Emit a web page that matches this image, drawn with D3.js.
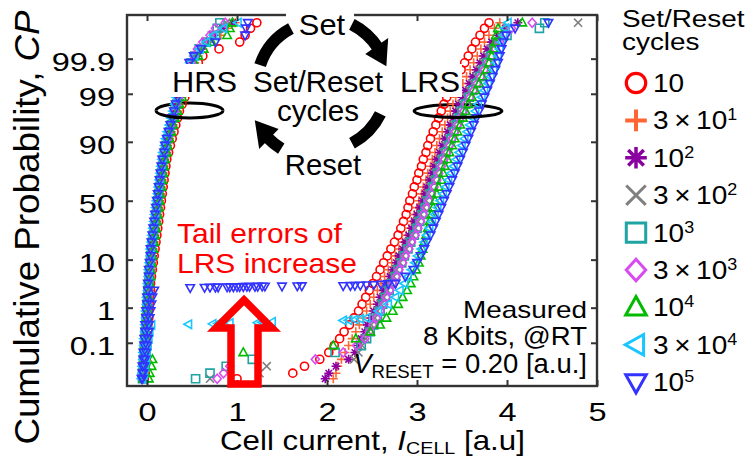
<!DOCTYPE html>
<html>
<head>
<meta charset="utf-8">
<script src="https://cdn.jsdelivr.net/npm/d3@7"></script>
<style>
  html, body { margin: 0; padding: 0; background: #fff; }
  svg { display: block; font-family: "Liberation Sans", Arial, Helvetica, sans-serif; }
  text { white-space: pre; }
</style>
</head>
<body>
<svg id="chart" width="754" height="458" xmlns="http://www.w3.org/2000/svg"></svg>
<script>
// ================= DATA =================
const seriesNames = ["10", "3x10^1", "10^2", "3x10^2", "10^3", "3x10^3", "10^4", "3x10^4", "10^5"];
const legendBase = ["10", "3\u2009\u00d7\u200910", "10", "3\u2009\u00d7\u200910", "10", "3\u2009\u00d7\u200910", "10", "3\u2009\u00d7\u200910", "10"];
const legendExp  = ["", "1", "2", "2", "3", "3", "4", "4", "5"];

// cumulative probability levels (%) at which the sorted currents were read
const cpLevels = [0.0054, 0.0088, 0.0159, 0.0280, 0.0483, 0.0816, 0.135, 0.219, 0.347, 0.539, 0.820, 1.22, 1.79, 2.56, 3.59, 4.95, 6.68, 8.85, 11.51, 14.69, 18.41, 22.66, 27.43, 32.64, 38.21, 44.04, 50, 55.96, 61.79, 67.36, 72.57, 77.34, 81.59, 85.31, 88.49, 91.15, 93.32, 95.05, 96.41, 97.44, 98.21, 98.78, 99.18, 99.461, 99.653, 99.781, 99.865, 99.918, 99.952, 99.972, 99.984, 99.9912, 99.9946];

// HRS cell current [a.u.] per cycle count
const hrs10     = [-0.03, -0.02, -0.02, -0.01, -0.01, 0.00, 0.00, 0.01, 0.01, 0.02, 0.02, 0.03, 0.03, 0.04, 0.04, 0.05, 0.06, 0.07, 0.08, 0.09, 0.10, 0.11, 0.12, 0.13, 0.14, 0.15, 0.16, 0.17, 0.18, 0.19, 0.20, 0.21, 0.22, 0.24, 0.26, 0.28, 0.30, 0.32, 0.34, 0.36, 0.39, 0.42, 0.45, 0.48, 0.51, 0.54, 0.57, 0.62, 0.80, 1.03, 1.09, 1.15, 1.22];
const hrs30     = [-0.04, -0.03, -0.03, -0.02, -0.02, -0.01, -0.01, 0.00, 0.00, 0.01, 0.01, 0.02, 0.02, 0.03, 0.03, 0.04, 0.05, 0.06, 0.07, 0.07, 0.08, 0.09, 0.10, 0.11, 0.12, 0.13, 0.14, 0.15, 0.16, 0.17, 0.18, 0.19, 0.20, 0.22, 0.23, 0.25, 0.27, 0.29, 0.31, 0.34, 0.36, 0.39, 0.41, 0.44, 0.47, 0.50, 0.53, 0.57, 0.62, 0.70, 0.82, 0.90, 0.98];
const hrs100    = [-0.05, -0.04, -0.04, -0.03, -0.03, -0.02, -0.02, -0.01, -0.01, 0.00, 0.00, 0.01, 0.01, 0.02, 0.03, 0.03, 0.04, 0.05, 0.06, 0.06, 0.07, 0.08, 0.09, 0.10, 0.11, 0.12, 0.13, 0.14, 0.15, 0.16, 0.17, 0.18, 0.19, 0.21, 0.22, 0.24, 0.26, 0.28, 0.30, 0.32, 0.35, 0.37, 0.40, 0.42, 0.45, 0.48, 0.51, 0.55, 0.60, 0.66, 0.74, 0.84, 0.95];
const hrs300    = [-0.05, -0.04, -0.04, -0.03, -0.03, -0.02, -0.02, -0.01, -0.01, 0.00, 0.00, 0.01, 0.01, 0.02, 0.02, 0.03, 0.04, 0.04, 0.05, 0.06, 0.07, 0.08, 0.09, 0.10, 0.11, 0.12, 0.13, 0.14, 0.15, 0.16, 0.17, 0.18, 0.19, 0.20, 0.22, 0.24, 0.25, 0.27, 0.29, 0.32, 0.34, 0.36, 0.39, 0.41, 0.44, 0.47, 0.50, 0.54, 0.59, 0.65, 0.72, 0.80, 0.88];
const hrs1000   = [-0.05, -0.05, -0.04, -0.04, -0.03, -0.03, -0.02, -0.02, -0.01, -0.01, 0.00, 0.00, 0.01, 0.01, 0.02, 0.02, 0.03, 0.04, 0.04, 0.05, 0.06, 0.07, 0.08, 0.09, 0.10, 0.11, 0.12, 0.13, 0.14, 0.15, 0.16, 0.17, 0.18, 0.20, 0.21, 0.23, 0.25, 0.27, 0.29, 0.31, 0.33, 0.35, 0.38, 0.40, 0.43, 0.46, 0.49, 0.53, 0.58, 0.66, 0.76, 0.78, 0.81];
const hrs3000   = [-0.05, -0.05, -0.04, -0.04, -0.03, -0.03, -0.02, -0.02, -0.01, -0.01, 0.00, 0.00, 0.01, 0.01, 0.02, 0.02, 0.03, 0.04, 0.04, 0.05, 0.06, 0.07, 0.08, 0.09, 0.10, 0.11, 0.12, 0.13, 0.14, 0.15, 0.16, 0.17, 0.18, 0.20, 0.21, 0.23, 0.25, 0.27, 0.29, 0.31, 0.33, 0.35, 0.38, 0.40, 0.43, 0.46, 0.49, 0.52, 0.56, 0.62, 0.70, 0.76, 0.87];
const hrs10000  = [-0.04, -0.04, -0.03, -0.03, -0.02, -0.02, -0.01, -0.01, 0.00, 0.00, 0.01, 0.01, 0.02, 0.02, 0.03, 0.04, 0.04, 0.05, 0.06, 0.07, 0.08, 0.09, 0.10, 0.11, 0.12, 0.13, 0.14, 0.15, 0.16, 0.17, 0.18, 0.19, 0.20, 0.22, 0.23, 0.25, 0.27, 0.29, 0.31, 0.34, 0.36, 0.39, 0.41, 0.44, 0.47, 0.50, 0.53, 0.57, 0.63, 0.72, 0.89, 0.92, 0.95];
const hrs30000  = [-0.06, -0.05, -0.05, -0.04, -0.04, -0.03, -0.03, -0.02, -0.02, -0.01, -0.01, 0.00, 0.00, 0.01, 0.01, 0.02, 0.02, 0.03, 0.04, 0.04, 0.05, 0.06, 0.07, 0.08, 0.09, 0.10, 0.11, 0.12, 0.13, 0.14, 0.15, 0.16, 0.17, 0.18, 0.20, 0.21, 0.23, 0.25, 0.27, 0.29, 0.31, 0.33, 0.35, 0.38, 0.41, 0.44, 0.48, 0.53, 0.59, 0.66, 0.74, 0.85, 1.01];
const hrs100000 = [-0.06, -0.05, -0.05, -0.04, -0.04, -0.03, -0.03, -0.02, -0.02, -0.01, -0.01, 0.00, 0.00, 0.01, 0.01, 0.02, 0.02, 0.03, 0.04, 0.04, 0.05, 0.06, 0.07, 0.08, 0.09, 0.10, 0.11, 0.12, 0.13, 0.14, 0.15, 0.16, 0.17, 0.19, 0.20, 0.22, 0.24, 0.26, 0.28, 0.30, 0.32, 0.34, 0.36, 0.38, 0.41, 0.44, 0.47, 0.52, 0.60, 0.76, 1.09, 1.10, 1.12];

// LRS cell current [a.u.] per cycle count
const lrs10     = [1.00, 1.62, 1.75, 1.92, 2.02, 2.08, 2.14, 2.19, 2.25, 2.30, 2.35, 2.39, 2.43, 2.47, 2.51, 2.55, 2.59, 2.63, 2.67, 2.71, 2.75, 2.79, 2.82, 2.85, 2.88, 2.90, 2.92, 2.95, 2.97, 3.00, 3.02, 3.05, 3.07, 3.10, 3.12, 3.15, 3.18, 3.21, 3.24, 3.27, 3.30, 3.33, 3.37, 3.41, 3.45, 3.49, 3.53, 3.57, 3.61, 3.65, 3.70, 3.75, 3.80];
const lrs30     = [2.07, 2.10, 2.12, 2.16, 2.20, 2.24, 2.28, 2.32, 2.36, 2.40, 2.44, 2.48, 2.52, 2.56, 2.60, 2.64, 2.68, 2.72, 2.76, 2.80, 2.84, 2.88, 2.91, 2.94, 2.97, 3.00, 3.02, 3.05, 3.07, 3.10, 3.12, 3.15, 3.17, 3.20, 3.22, 3.25, 3.28, 3.31, 3.34, 3.37, 3.40, 3.43, 3.47, 3.51, 3.55, 3.59, 3.63, 3.67, 3.71, 3.75, 3.80, 3.86, 3.92];
const lrs100    = [1.98, 2.02, 2.10, 2.24, 2.31, 2.35, 2.38, 2.42, 2.45, 2.49, 2.52, 2.56, 2.59, 2.63, 2.66, 2.70, 2.73, 2.77, 2.80, 2.84, 2.87, 2.91, 2.94, 2.97, 3.00, 3.03, 3.06, 3.09, 3.11, 3.14, 3.17, 3.19, 3.22, 3.25, 3.28, 3.31, 3.34, 3.37, 3.40, 3.43, 3.46, 3.50, 3.54, 3.58, 3.62, 3.66, 3.70, 3.74, 3.78, 3.83, 3.90, 3.98, 4.12];
const lrs300    = [0.70, 1.25, 1.33, 2.30, 2.35, 2.39, 2.43, 2.46, 2.49, 2.53, 2.56, 2.60, 2.63, 2.67, 2.70, 2.74, 2.77, 2.81, 2.84, 2.88, 2.91, 2.95, 2.98, 3.01, 3.04, 3.07, 3.10, 3.13, 3.15, 3.18, 3.21, 3.23, 3.26, 3.29, 3.32, 3.35, 3.38, 3.41, 3.44, 3.47, 3.50, 3.54, 3.58, 3.62, 3.66, 3.70, 3.74, 3.78, 3.82, 3.87, 3.93, 4.00, 4.79];
const lrs1000   = [0.54, 0.70, 0.88, 1.17, 2.09, 2.38, 2.44, 2.48, 2.52, 2.56, 2.59, 2.62, 2.65, 2.69, 2.72, 2.76, 2.79, 2.83, 2.86, 2.90, 2.93, 2.97, 3.00, 3.03, 3.06, 3.09, 3.12, 3.15, 3.18, 3.21, 3.23, 3.26, 3.29, 3.32, 3.35, 3.38, 3.41, 3.44, 3.47, 3.50, 3.54, 3.58, 3.62, 3.66, 3.70, 3.74, 3.78, 3.82, 3.86, 3.92, 4.00, 4.36, 4.42];
const lrs3000   = [0.78, 0.85, 0.92, 1.87, 2.18, 2.33, 2.42, 2.47, 2.51, 2.55, 2.59, 2.63, 2.66, 2.70, 2.73, 2.77, 2.80, 2.84, 2.87, 2.91, 2.94, 2.98, 3.01, 3.04, 3.07, 3.10, 3.13, 3.16, 3.19, 3.22, 3.24, 3.27, 3.30, 3.33, 3.36, 3.39, 3.42, 3.45, 3.48, 3.52, 3.55, 3.59, 3.63, 3.67, 3.71, 3.75, 3.79, 3.83, 3.87, 3.92, 3.98, 4.05, 4.28];
const lrs10000  = [0.02, 0.03, 0.05, 0.06, 1.07, 2.07, 2.32, 2.48, 2.59, 2.66, 2.73, 2.79, 2.84, 2.89, 2.93, 2.96, 2.99, 3.02, 3.04, 3.06, 3.08, 3.10, 3.12, 3.14, 3.16, 3.18, 3.20, 3.22, 3.24, 3.27, 3.29, 3.31, 3.34, 3.36, 3.39, 3.42, 3.45, 3.48, 3.51, 3.54, 3.57, 3.61, 3.65, 3.69, 3.73, 3.77, 3.80, 3.83, 3.85, 3.87, 3.88, 3.90, 4.17];
const lrs30000  = [-0.04, -0.03, -0.02, -0.01, 0.00, 0.01, 0.02, 0.03, 0.05, 2.44, 2.57, 2.68, 2.76, 2.81, 2.86, 2.90, 2.94, 2.98, 3.01, 3.05, 3.08, 3.11, 3.14, 3.17, 3.20, 3.23, 3.26, 3.29, 3.32, 3.35, 3.38, 3.41, 3.44, 3.47, 3.50, 3.53, 3.56, 3.59, 3.62, 3.65, 3.68, 3.72, 3.75, 3.79, 3.82, 3.85, 3.88, 3.90, 3.92, 3.94, 3.96, 3.98, 4.01];
const lrs100000 = [-0.05, -0.04, -0.03, -0.02, -0.01, 0.00, 0.01, 0.02, 0.02, 0.03, 0.04, 0.05, 0.06, 0.08, 2.76, 2.87, 2.96, 3.00, 3.04, 3.08, 3.11, 3.15, 3.18, 3.21, 3.24, 3.27, 3.30, 3.33, 3.36, 3.39, 3.42, 3.45, 3.48, 3.51, 3.54, 3.57, 3.60, 3.63, 3.66, 3.69, 3.72, 3.75, 3.78, 3.81, 3.84, 3.87, 3.90, 3.92, 3.94, 3.96, 3.99, 4.09, 4.46];

// LRS tail-error cells [current, CP %] (the horizontal rows)
const tail30000  = [[0.46, 0.36], [0.73, 0.37], [0.79, 0.38], [0.92, 0.39], [1.23, 0.40], [1.28, 0.41], [1.39, 0.42], [2.18, 0.46], [2.24, 0.47], [2.31, 0.49], [2.37, 0.51]];
const tail100000 = [[0.48, 2.90], [0.64, 2.94], [0.70, 2.96], [0.76, 2.98], [0.79, 2.99], [0.89, 3.01], [0.92, 3.02], [0.96, 3.03], [1.00, 3.04], [1.03, 3.05], [1.07, 3.06], [1.11, 3.07], [1.14, 3.08], [1.20, 3.09], [1.23, 3.10], [1.28, 3.11], [1.31, 3.12], [1.50, 3.14], [1.67, 3.16], [1.72, 3.17], [2.18, 3.20], [2.26, 3.22], [2.31, 3.24], [2.37, 3.27], [2.44, 3.31], [2.52, 3.36], [2.60, 3.42], [2.68, 3.50]];

const xTicks = [0, 1, 2, 3, 4, 5];
const yTickCP = [0.1, 1, 10, 50, 90, 99, 99.9];
const yTickLabels = ["0.1", "1", "10", "50", "90", "99", "99.9"];

// ================= STYLE =================
const seriesColors  = ["#ff0000", "#ff6633", "#8b00a0", "#808080", "#1fa3a3", "#d94bf0", "#00bb00", "#1ac6ff", "#3333ff"];
const seriesMarkers = ["circle", "plus", "asterisk", "x", "square", "diamond", "triUp", "triLeft", "triDown"];

// inverse standard normal CDF (Acklam)
function probit(p) {
  const a = [-3.969683028665376e+01, 2.209460984245205e+02, -2.759285104469687e+02, 1.383577518672690e+02, -3.066479806614716e+01, 2.506628277459239e+00];
  const b = [-5.447609879822406e+01, 1.615858368580409e+02, -1.556989798598866e+02, 6.680131188771972e+01, -1.328068155288572e+01];
  const c = [-7.784894002430293e-03, -3.223964580411365e-01, -2.400758277161838e+00, -2.549732539343734e+00, 4.374664141464968e+00, 2.938163982698783e+00];
  const d = [7.784695709041462e-03, 3.224671290700398e-01, 2.445134137142996e+00, 3.754408661907416e+00];
  const pl = 0.02425, ph = 1 - pl;
  let q, r;
  if (p < pl) { q = Math.sqrt(-2 * Math.log(p)); return (((((c[0]*q+c[1])*q+c[2])*q+c[3])*q+c[4])*q+c[5]) / ((((d[0]*q+d[1])*q+d[2])*q+d[3])*q+1); }
  if (p <= ph) { q = p - 0.5; r = q*q; return (((((a[0]*r+a[1])*r+a[2])*r+a[3])*r+a[4])*r+a[5])*q / (((((b[0]*r+b[1])*r+b[2])*r+b[3])*r+b[4])*r+1); }
  q = Math.sqrt(-2 * Math.log(1 - p));
  return -(((((c[0]*q+c[1])*q+c[2])*q+c[3])*q+c[4])*q+c[5]) / ((((d[0]*q+d[1])*q+d[2])*q+d[3])*q+1);
}

function markerPath(kind, s) {
  const a = s * 0.9, q = s * 0.72;
  switch (kind) {
    case "circle":   return `M${a},0A${a},${a} 0 1,1 ${-a},0A${a},${a} 0 1,1 ${a},0Z`;
    case "plus":     return `M${-s},0H${s}M0,${-s}V${s}`;
    case "asterisk": return `M${-s},0H${s}M0,${-s}V${s}M${-q},${-q}L${q},${q}M${-q},${q}L${q},${-q}`;
    case "x":        return `M${-a},${-a}L${a},${a}M${-a},${a}L${a},${-a}`;
    case "square":   return `M${-a},${-a}H${a}V${a}H${-a}Z`;
    case "diamond":  return `M0,${-s}L${s*0.9},0L0,${s}L${-s*0.9},0Z`;
    case "triUp":    return `M0,${-s}L${s*0.95},${s*0.7}L${-s*0.95},${s*0.7}Z`;
    case "triDown":  return `M0,${s}L${s*0.95},${-s*0.7}L${-s*0.95},${-s*0.7}Z`;
    case "triLeft":  return `M${-s},0L${s*0.7},${-s*0.95}L${s*0.7},${s*0.95}Z`;
  }
}

// ================= CHART =================
const svg = d3.select("#chart");
svg.append("rect").attr("width", 754).attr("height", 458).attr("fill", "#fff");

const L = 127, R = 597, T = 15, B = 386;
const x = d3.scaleLinear().domain([-0.2222, 5]).range([L, R]);
const yz = d3.scaleLinear().domain([-4.03, 4.04]).range([B, T]);
const yCP = cp => yz(probit(cp / 100));

// text helper: parts may shift baseline (sub/superscript) or start a new line (nl = line height)
function label(parent, px, py, parts, o) {
  const g = parent.append("g");
  const t = g.append("text").attr("font-size", o.size).attr("text-anchor", o.anchor || "start").attr("fill", o.color || "#000");
  let shift = 0;
  parts.forEach(p => {
    if (typeof p === "string") p = { t: p };
    const ts = t.append("tspan").text(p.t);
    if (p.nl) { ts.attr("x", 0).attr("dy", p.nl - shift); shift = 0; }
    else { const s = p.shift || 0; ts.attr("dy", s - shift); shift = s; }
    if (p.italic) ts.attr("font-style", "italic");
    if (p.size) ts.attr("font-size", p.size);
  });
  let sx = o.sx || 1;
  if (o.width) sx = o.width / t.node().getBBox().width;
  g.attr("transform", `translate(${px},${py})${o.rotate ? ` rotate(${o.rotate})` : ""} scale(${sx},1)`);
  return g;
}

// ellipses (back halves drawn under the markers)
const ellipses = [{ cx: 189.5, cy: 110.5, rx: 33.5, ry: 7.5 }, { cx: 458, cy: 111, rx: 44, ry: 6.5 }];
ellipses.forEach(e => svg.append("path")
  .attr("d", `M${e.cx - e.rx},${e.cy}A${e.rx},${e.ry} 0 0,1 ${e.cx + e.rx},${e.cy}`)
  .attr("fill", "none").attr("stroke", "#000").attr("stroke-width", 3));

// markers
svg.append("clipPath").attr("id", "plotclip").append("rect").attr("x", L).attr("y", T).attr("width", R - L).attr("height", B - T);
const plot = svg.append("g").attr("clip-path", "url(#plotclip)");
const hrsData = [hrs10, hrs30, hrs100, hrs300, hrs1000, hrs3000, hrs10000, hrs30000, hrs100000];
const lrsData = [lrs10, lrs30, lrs100, lrs300, lrs1000, lrs3000, lrs10000, lrs30000, lrs100000];
const tailData = [[], [], [], [], [], [], [], tail30000, tail100000];
seriesNames.forEach((name, i) => {
  const pts = [];
  hrsData[i].forEach((v, k) => pts.push([v, cpLevels[k]]));
  lrsData[i].forEach((v, k) => pts.push([v, cpLevels[k]]));
  tailData[i].forEach(d => pts.push(d));
  plot.append("g").attr("class", "series").selectAll("path").data(pts).join("path")
    .attr("transform", d => `translate(${x(d[0])},${yCP(d[1])})`)
    .attr("d", markerPath(seriesMarkers[i], 4.5))
    .attr("fill", "none").attr("stroke", seriesColors[i]).attr("stroke-width", 1.6);
});

// ellipses front halves
ellipses.forEach(e => svg.append("path")
  .attr("d", `M${e.cx - e.rx},${e.cy}A${e.rx},${e.ry} 0 0,0 ${e.cx + e.rx},${e.cy}`)
  .attr("fill", "none").attr("stroke", "#000").attr("stroke-width", 3));

// axes
const fontFam = '"Liberation Sans", Arial, Helvetica, sans-serif';
const gx = svg.append("g").attr("transform", `translate(0,${B})`)
  .call(d3.axisBottom(x).tickValues(xTicks).tickFormat(d3.format("d")).tickSizeInner(-6).tickSizeOuter(0).tickPadding(17));
gx.select(".domain").remove();
gx.attr("font-size", 26).attr("font-family", fontFam);
gx.selectAll("text").attr("fill", "#000").attr("transform", "scale(1.25,1)");
gx.selectAll("line").attr("stroke", "#333").attr("stroke-width", 2);

const gxt = svg.append("g").attr("transform", `translate(0,${T})`)
  .call(d3.axisTop(x).tickValues(xTicks).tickFormat("").tickSizeInner(-6).tickSizeOuter(0));
gxt.select(".domain").remove();
gxt.selectAll("line").attr("stroke", "#333").attr("stroke-width", 2);

const yTickZ = yTickCP.map(p => probit(p / 100));
const gy = svg.append("g").attr("transform", `translate(${L},0)`)
  .call(d3.axisLeft(yz).tickValues(yTickZ).tickFormat((d, i) => yTickLabels[i]).tickSizeInner(-6).tickSizeOuter(0).tickPadding(12));
gy.select(".domain").remove();
gy.attr("font-size", 26).attr("font-family", fontFam);
gy.selectAll("text").attr("fill", "#000").attr("x", 0).attr("dy", "0.45em").attr("transform", "translate(-12,0) scale(1.25,1)");
gy.selectAll("line").attr("stroke", "#333").attr("stroke-width", 2);

const gyr = svg.append("g").attr("transform", `translate(${R},0)`)
  .call(d3.axisRight(yz).tickValues(yTickZ).tickFormat("").tickSizeInner(-6).tickSizeOuter(0));
gyr.select(".domain").remove();
gyr.selectAll("line").attr("stroke", "#333").attr("stroke-width", 2);

// frame
svg.append("rect").attr("x", L).attr("y", T).attr("width", R - L).attr("height", B - T)
  .attr("fill", "none").attr("stroke", "#333").attr("stroke-width", 2.4);

// axis titles
label(svg, 220, 450, ["Cell current, ", { t: "I", italic: true }, { t: "CELL", shift: 4, size: 17 }, { t: " [a.u]", shift: 0 }], { size: 27, width: 305 });
label(svg, 39, 227.5, ["Cumulative Probability, ", { t: "CP", italic: true }], { size: 35, anchor: "middle", rotate: -90, width: 435 });

// ===== annotations =====
// white boxes behind labels
svg.append("rect").attr("x", 168).attr("y", 64).attr("width", 73).attr("height", 33).attr("fill", "#fff");
svg.append("rect").attr("x", 397).attr("y", 64).attr("width", 65).attr("height", 33).attr("fill", "#fff");
svg.append("rect").attr("x", 286).attr("y", 2).attr("width", 68).attr("height", 38).attr("fill", "#fff");

label(svg, 172, 92, ["HRS"], { size: 30, width: 65 });
label(svg, 400, 92, ["LRS"], { size: 30, width: 60 });

// Set/Reset cycle diagram
const cyc = { cx: 321, cy: 85 };
function cpt(th, r) { const t = th * Math.PI / 180; return [cyc.cx + r * Math.sin(t), cyc.cy - r * Math.cos(t)]; }
function arcD(a0, a1, r) { const p0 = cpt(a0, r), p1 = cpt(a1, r); return `M${p0[0]},${p0[1]}A${r},${r} 0 0,1 ${p1[0]},${p1[1]}`; }
function headD(ab, at, r, hw) {
  const t = ab * Math.PI / 180, nx = Math.sin(t), ny = -Math.cos(t);
  const b = cpt(ab, r), tip = cpt(at, r);
  return `M${b[0] + nx * hw},${b[1] + ny * hw}L${tip[0]},${tip[1]}L${b[0] - nx * hw},${b[1] - ny * hw}Z`;
}
const cycG = svg.append("g");
[[288, 332, 64], [27, 57, 68], [116, 152, 66], [212, 226, 75]].forEach(([a0, a1, r]) =>
  cycG.append("path").attr("d", arcD(a0, a1, r)).attr("fill", "none").attr("stroke", "#000").attr("stroke-width", 12));
cycG.append("path").attr("d", headD(55, 74, 68, 14)).attr("fill", "#000");
cycG.append("path").attr("d", headD(224, 242, 75, 14)).attr("fill", "#000");

label(svg, 322, 35, ["Set"], { size: 30, anchor: "middle", width: 47 });
label(svg, 318, 92, ["Set/Reset", { t: "cycles", nl: 29 }], { size: 29, anchor: "middle", width: 130 });
label(svg, 323, 175, ["Reset"], { size: 30, anchor: "middle", width: 77 });

// tail error annotation
label(svg, 177, 243, ["Tail errors of", { t: "LRS increase", nl: 30 }], { size: 28, color: "#ff0000", width: 180 });
svg.append("path")
  .attr("d", "M244,300L272,328L258,328L258,384L231,384L231,328L216,328Z")
  .attr("fill", "none").attr("stroke", "#ff0000").attr("stroke-width", 7.5).attr("stroke-linejoin", "miter");

// measurement conditions
label(svg, 587, 318, ["Measured"], { size: 24, anchor: "end", width: 124 });
label(svg, 587, 345, ["8 Kbits, @RT"], { size: 25, anchor: "end", width: 164 });
label(svg, 587, 373, [{ t: "V", italic: true }, { t: "RESET", shift: 5, size: 19 }, { t: " = 0.20 [a.u.]", shift: 0 }], { size: 28, anchor: "end", width: 234 });

// ===== legend =====
label(svg, 622, 27, ["Set/Reset", { t: "cycles", nl: 23 }], { size: 24, width: 123 });
const legendStroke = [3.2, 4, 3.5, 3, 3, 3, 3, 3, 3];
seriesNames.forEach((name, i) => {
  const cy = 83 + i * 37.4;
  svg.append("path").attr("transform", `translate(636,${cy})`)
    .attr("d", markerPath(seriesMarkers[i], 10.8))
    .attr("fill", "none").attr("stroke", seriesColors[i]).attr("stroke-width", legendStroke[i]);
  const parts = [legendBase[i]];
  if (legendExp[i]) parts.push({ t: legendExp[i], shift: -9, size: 16 });
  label(svg, 653, cy + 9, parts, { size: 25, sx: 1.12 });
});
</script>
</body>
</html>
